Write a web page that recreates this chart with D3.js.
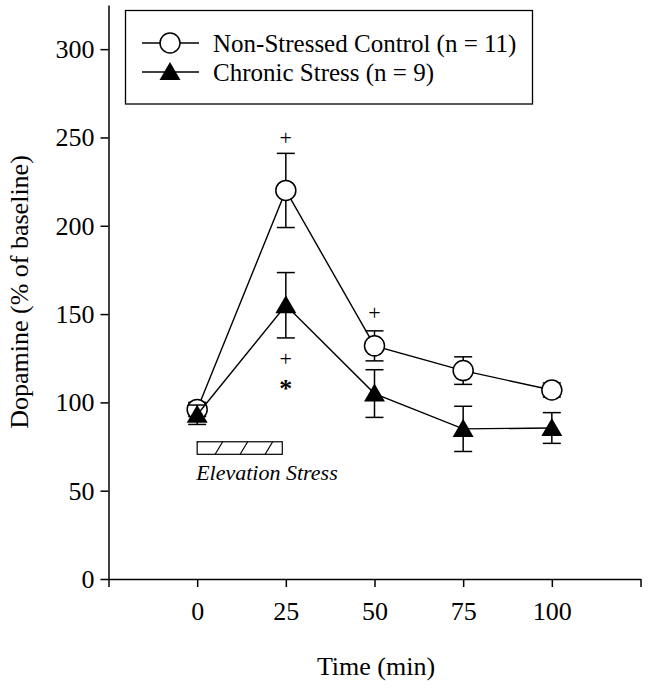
<!DOCTYPE html>
<html>
<head>
<meta charset="utf-8">
<script src="https://cdn.jsdelivr.net/npm/d3@7"></script>
<style>
  html, body { margin: 0; padding: 0; background: #fff; }
  svg { display: block; font-family: "Liberation Serif", "Times New Roman", serif; }
</style>
</head>
<body>
<div id="chart"></div>
<script>
// data
var times = [0, 25, 50, 75, 100];
var controlMean = [96, 220, 132, 118, 107];
var controlSem = [4, 21, 8.5, 7.8, 4];
var stressMean = [93, 155, 105, 85, 85.5];
var stressSem = [5.5, 18.5, 13.5, 12.8, 8.7];

var xTicks = [-25, 0, 25, 50, 75, 100, 125];
var yTicks = [0, 50, 100, 150, 200, 250, 300];

var seriesNames = ['Non-Stressed Control (n = 11)', 'Chronic Stress (n = 9)'];

// significance marks: time, value, symbol
var markTimes = [25, 25, 25, 50];
var markValues = [250, 125, 111, 151];
var markSymbols = ['+', '+', '*', '+'];

var stressWindow = [0, 24];      // elevation stress bar (min)
var stressBand = [70.6, 77.7];   // vertical extent, in y units

(function() {
  var W = 649, H = 688;
  var svg = d3.select('#chart').append('svg')
    .attr('width', W)
    .attr('height', H);

  var x = d3.scaleLinear().domain([-25, 125]).range([108.5, 640.5]);
  var y = d3.scaleLinear().domain([0, 325]).range([579, 5]);

  // Axes
  var yAxis = svg.append('g')
    .attr('transform', 'translate(' + x(-25) + ',0)')
    .call(d3.axisLeft(y).tickValues(yTicks).tickSize(8).tickSizeOuter(0).tickPadding(6));
  var xAxis = svg.append('g')
    .attr('transform', 'translate(0,' + y(0) + ')')
    .call(d3.axisBottom(x).tickValues(xTicks).tickSize(8).tickSizeOuter(0).tickPadding(15)
      .tickFormat(function(d) { return (d >= 0 && d <= 100) ? d : ''; }));

  [xAxis, yAxis].forEach(function(a) {
    a.selectAll('path, line').attr('stroke', '#000').attr('stroke-width', 1.5);
    a.selectAll('text')
      .attr('fill', '#000')
      .style('font-family', '"Liberation Serif", "Times New Roman", serif')
      .style('font-size', '26px');
  });

  svg.append('text')
    .attr('x', 376).attr('y', 675)
    .attr('text-anchor', 'middle')
    .style('font-size', '26px')
    .text('Time (min)');

  svg.append('text')
    .attr('transform', 'translate(28,292) rotate(-90)')
    .attr('text-anchor', 'middle')
    .style('font-size', '26px')
    .text('Dopamine (% of baseline)');

  // Elevation stress bar with hatching
  var bx0 = x(stressWindow[0]), bx1 = x(stressWindow[1]);
  var by0 = y(stressBand[1]), by1 = y(stressBand[0]);
  var hatch = svg.append('g');
  d3.range(bx0 - 7, bx1, 25).forEach(function(hx) {
    var xa = Math.max(hx, bx0), ya = by1 - (xa - hx) * (by1 - by0) / 7.5;
    var xb = Math.min(hx + 7.5, bx1), yb = by1 - (xb - hx) * (by1 - by0) / 7.5;
    hatch.append('line')
      .attr('x1', xa).attr('y1', ya).attr('x2', xb).attr('y2', yb)
      .attr('stroke', '#000').attr('stroke-width', 1.2);
  });
  svg.append('rect')
    .attr('x', bx0).attr('y', by0)
    .attr('width', bx1 - bx0).attr('height', by1 - by0)
    .attr('fill', 'none').attr('stroke', '#000').attr('stroke-width', 1.2);
  svg.append('text')
    .attr('x', bx0 - 1).attr('y', 480)
    .style('font-size', '22px')
    .style('font-style', 'italic')
    .text('Elevation Stress');

  var tri = d3.symbol().type(d3.symbolTriangle).size(190);
  var line = d3.line()
    .x(function(d) { return x(d.t); })
    .y(function(d) { return y(d.m); });

  function drawSeries(mean, sem, kind) {
    var pts = times.map(function(t, i) { return { t: t, m: mean[i], s: sem[i] }; });
    var g = svg.append('g');
    g.append('path')
      .datum(pts)
      .attr('d', line)
      .attr('fill', 'none')
      .attr('stroke', '#000')
      .attr('stroke-width', 1.4);
    var eb = g.selectAll('.eb').data(pts).join('g');
    eb.append('line')
      .attr('x1', function(d) { return x(d.t); })
      .attr('x2', function(d) { return x(d.t); })
      .attr('y1', function(d) { return y(d.m + d.s); })
      .attr('y2', function(d) { return y(d.m - d.s); });
    eb.append('line')
      .attr('x1', function(d) { return x(d.t) - 9; })
      .attr('x2', function(d) { return x(d.t) + 9; })
      .attr('y1', function(d) { return y(d.m + d.s); })
      .attr('y2', function(d) { return y(d.m + d.s); });
    eb.append('line')
      .attr('x1', function(d) { return x(d.t) - 9; })
      .attr('x2', function(d) { return x(d.t) + 9; })
      .attr('y1', function(d) { return y(d.m - d.s); })
      .attr('y2', function(d) { return y(d.m - d.s); });
    eb.selectAll('line').attr('stroke', '#000').attr('stroke-width', 1.5);
    if (kind === 'circle') {
      g.selectAll('circle').data(pts).join('circle')
        .attr('cx', function(d) { return x(d.t); })
        .attr('cy', function(d) { return y(d.m); })
        .attr('r', 10)
        .attr('fill', '#fff')
        .attr('stroke', '#000')
        .attr('stroke-width', 1.5);
    } else {
      g.selectAll('path.tri').data(pts).join('path')
        .attr('class', 'tri')
        .attr('d', tri)
        .attr('transform', function(d) { return 'translate(' + x(d.t) + ',' + (y(d.m) + 2) + ')'; })
        .attr('fill', '#000');
    }
  }

  drawSeries(controlMean, controlSem, 'circle');
  drawSeries(stressMean, stressSem, 'triangle');

  // significance marks
  svg.append('g').selectAll('text')
    .data(markTimes.map(function(t, i) { return { t: t, v: markValues[i], s: markSymbols[i] }; }))
    .join('text')
    .attr('x', function(d) { return x(d.t); })
    .attr('y', function(d) { return y(d.v); })
    .attr('text-anchor', 'middle')
    .attr('dominant-baseline', 'central')
    .style('font-size', function(d) { return d.s === '*' ? '26px' : '22px'; })
    .style('font-weight', function(d) { return d.s === '*' ? 'bold' : 'normal'; })
    .attr('dy', function(d) { return d.s === '*' ? 6 : 0; })
    .text(function(d) { return d.s; });

  // Legend
  var lg = svg.append('g');
  lg.append('rect')
    .attr('x', 125.5).attr('y', 10.5).attr('width', 407).attr('height', 93.5)
    .attr('fill', '#fff').attr('stroke', '#000').attr('stroke-width', 1.3);
  var rowY = [43, 72];
  rowY.forEach(function(ry, i) {
    lg.append('line')
      .attr('x1', 142).attr('x2', 199).attr('y1', ry).attr('y2', ry)
      .attr('stroke', '#000').attr('stroke-width', 1.4);
    if (i === 0) {
      lg.append('circle').attr('cx', 170).attr('cy', ry).attr('r', 10)
        .attr('fill', '#fff').attr('stroke', '#000').attr('stroke-width', 1.5);
    } else {
      lg.append('path').attr('d', tri)
        .attr('transform', 'translate(170,' + (ry + 2) + ')')
        .attr('fill', '#000');
    }
    lg.append('text')
      .attr('x', 213).attr('y', ry + 9)
      .style('font-size', '25px')
      .text(seriesNames[i]);
  });
})();
</script>
</body>
</html>
